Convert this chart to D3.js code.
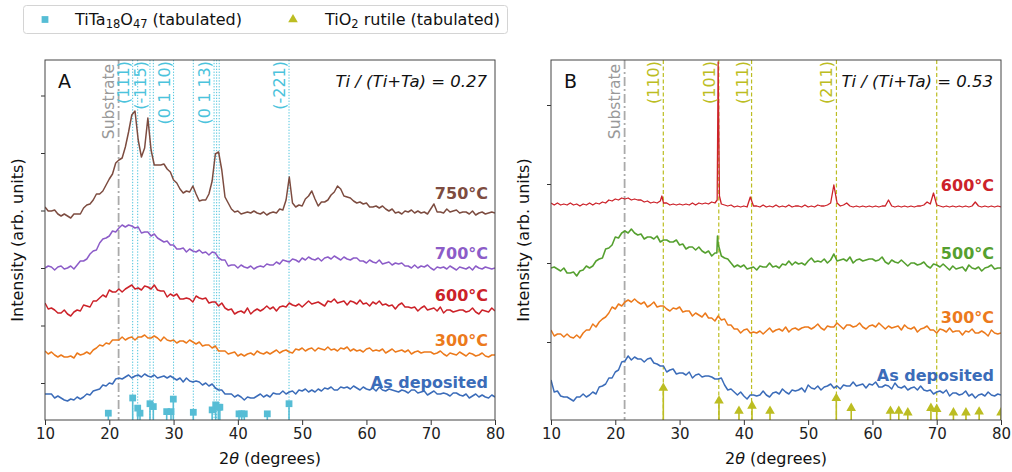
<!DOCTYPE html>
<html>
<head>
<meta charset="utf-8">
<script src="https://cdn.jsdelivr.net/npm/d3@7"></script>
<style>
  body { margin: 0; background: #fff; }
  svg { display: block; font-family: "DejaVu Sans", sans-serif; }
</style>
</head>
<body>
<svg id="chart" width="1012" height="472"></svg>
<script>
// ---- Scan grid (2θ, degrees): 10° to 80° in 0.5° steps ----
const SCAN_START = 10, SCAN_END = 80, SCAN_STEP = 0.5;
const scanAngles = d3.range(SCAN_START, SCAN_END + 1e-9, SCAN_STEP);

// ---- Panel A: Ti/(Ti+Ta) = 0.27, stacked patterns (arb. units, offsets included) ----
const A_750 = [
  176,172,172,173,169,167,169,167,165,169,
  169,169,175,178,179,183,189,189,192,198,
  204,209,220,223,225,236,251,268,272,243,
  226,235,265,233,218,218,218,219,214,211,
  203,200,194,190,192,191,197,189,182,183,
  183,189,202,229,231,213,186,180,174,171,
  172,169,170,171,170,172,170,169,171,168,
  170,171,170,174,173,183,206,180,176,178,
  177,184,187,192,184,177,181,181,183,188,
  191,197,194,187,186,185,182,180,181,179,
  180,176,176,177,175,177,174,172,174,170,
  171,169,172,171,173,170,172,170,171,169,
  174,179,171,171,170,174,171,172,173,170,
  171,171,169,172,168,170,171,169,170,171,
  170
];
const A_700 = [
  115,117,116,113,116,117,114,115,117,114,
  118,122,122,124,129,132,133,140,144,145,
  147,152,151,155,158,156,158,157,155,156,
  150,151,151,147,149,145,143,141,142,138,
  138,134,134,135,131,134,132,131,133,130,
  131,128,131,130,125,123,123,117,118,118,
  115,118,116,115,117,114,116,117,116,119,
  118,118,121,119,123,122,121,124,123,121,
  125,123,126,124,123,125,122,125,126,124,
  127,125,123,126,124,123,125,125,122,122,
  120,123,121,120,123,119,120,121,118,120,
  119,120,117,117,115,118,115,117,116,118,
  115,113,116,115,116,114,117,115,113,116,
  115,114,116,113,117,115,114,116,115,114,
  115
];
const A_600 = [
  80,74,75,73,70,70,73,69,67,71,
  73,72,78,77,76,82,82,85,88,86,
  93,91,91,94,91,94,96,98,94,95,
  93,97,96,94,98,93,92,92,86,89,
  87,89,84,84,85,84,81,87,85,84,
  85,80,81,81,77,80,75,73,74,69,
  71,72,70,75,69,72,74,72,74,77,
  74,76,72,76,77,76,80,78,77,79,
  76,79,82,79,80,81,79,77,82,81,
  84,80,81,82,78,82,81,79,83,79,
  80,77,81,79,82,78,79,77,78,74,
  78,80,76,76,75,76,72,75,77,73,
  74,75,72,76,70,73,73,71,72,73,
  73,71,72,75,71,69,73,72,71,75,
  72
];
const A_300 = [
  32,29,31,28,26,28,26,26,27,25,
  30,28,29,31,29,33,35,38,37,40,
  39,43,43,43,46,43,45,46,43,46,
  46,48,45,45,47,45,42,46,43,42,
  43,40,42,42,40,43,41,39,41,37,
  38,38,35,37,32,32,32,29,30,31,
  27,29,27,29,30,28,32,30,29,31,
  29,31,33,30,32,33,31,30,34,33,
  35,32,34,35,32,35,34,33,36,33,
  34,32,35,34,36,32,34,32,33,31,
  34,35,32,33,32,34,30,32,34,31,
  32,33,31,33,29,31,32,30,31,31,
  31,29,30,32,29,27,30,29,28,31,
  29,27,30,29,27,28,30,27,26,28,
  28
];
const A_asDeposited = [
  -11,-11,-11,-15,-13,-15,-17,-18,-16,-17,
  -14,-16,-14,-11,-12,-8,-7,-6,-2,-3,
  0,-1,4,5,4,6,8,5,7,8,
  6,9,7,6,8,5,6,7,5,7,
  5,3,5,1,5,2,1,2,1,-2,
  0,-3,-1,-5,-7,-7,-11,-11,-11,-14,
  -12,-14,-17,-14,-15,-15,-13,-11,-14,-12,
  -14,-10,-11,-11,-8,-11,-9,-8,-11,-7,
  -8,-6,-9,-7,-9,-6,-8,-5,-6,-4,
  -7,-7,-4,-5,-4,-6,-3,-5,-7,-4,
  -6,-7,-5,-8,-4,-7,-8,-6,-7,-8,
  -9,-7,-8,-10,-7,-7,-10,-9,-8,-12,
  -10,-8,-11,-11,-10,-11,-13,-10,-10,-12,
  -13,-11,-15,-13,-11,-14,-12,-14,-15,-12,
  -14
];

// ---- Panel B: Ti/(Ti+Ta) = 0.53 ----
const B_600 = [
  139,137,139,137,138,137,139,137,138,136,
  138,137,139,137,139,138,140,139,142,141,
  143,142,144,143,144,142,143,142,142,140,
  141,139,140,139,141,139,139,137,138,137,
  138,137,138,137,139,137,139,138,139,138,
  140,139,280,138,137,136,137,135,136,135,
  136,135,145,136,136,135,137,135,136,135,
  137,135,136,135,137,135,136,136,135,137,
  135,136,135,137,136,136,137,139,157,139,
  136,137,139,136,135,136,135,136,135,136,
  135,136,135,136,136,142,136,135,136,135,
  136,135,136,135,136,136,137,140,138,149,
  137,136,135,136,135,136,135,136,135,136,
  135,136,140,136,135,136,135,136,135,136,
  135
];
const B_600_extra = [[27.25, 146], [35.85, 142], [36.2, 146]];
const B_500 = [
  74,75,73,71,74,69,69,70,66,71,
  72,76,74,76,81,83,84,93,94,97,
  105,104,109,111,109,113,109,107,108,103,
  105,105,103,106,100,102,102,100,100,102,
  97,98,93,95,95,92,95,91,89,91,
  86,89,98,86,84,83,79,75,77,75,
  77,73,74,75,72,76,75,75,79,75,
  76,74,78,77,81,77,80,78,79,77,
  81,84,80,81,80,83,79,82,88,81,
  82,83,81,85,79,82,83,81,82,83,
  83,81,82,85,80,78,82,80,79,82,
  79,76,79,79,77,78,80,76,74,78,
  77,75,78,75,72,76,73,74,75,71,
  77,74,73,75,71,74,75,77,73,74,
  74
];
const B_500_extra = [[35.8, 89], [35.9, 106]];
const B_300 = [
  12,6,8,8,5,8,5,4,7,4,
  9,12,12,18,15,20,23,25,29,35,
  33,38,36,40,42,40,43,40,38,40,
  35,37,40,35,36,36,33,31,34,33,
  35,30,31,31,26,29,27,25,29,24,
  24,21,26,22,23,17,17,13,13,9,
  12,13,9,10,9,11,8,11,14,10,
  12,13,11,15,10,13,14,12,14,15,
  15,13,15,18,14,12,16,15,15,19,
  16,13,17,17,15,16,19,15,13,16,
  17,15,19,16,13,16,14,15,16,12,
  17,14,13,15,10,13,14,16,12,12,
  9,13,12,10,14,10,11,11,7,11,
  10,13,9,9,11,9,6,12,9,8,
  9
];
const B_asDeposited = [
  -38,-50,-49,-54,-55,-55,-57,-59,-55,-55,
  -52,-55,-53,-50,-52,-45,-44,-42,-36,-36,
  -30,-28,-20,-19,-14,-18,-15,-17,-17,-20,
  -17,-16,-21,-22,-24,-24,-30,-28,-27,-32,
  -31,-31,-33,-30,-36,-33,-32,-35,-34,-34,
  -35,-37,-37,-36,-43,-48,-47,-50,-53,-50,
  -54,-57,-53,-53,-54,-53,-49,-53,-55,-51,
  -50,-52,-47,-50,-52,-48,-49,-48,-46,-50,
  -43,-46,-47,-44,-48,-45,-44,-42,-46,-44,
  -47,-43,-44,-44,-40,-44,-43,-42,-46,-42,
  -43,-40,-45,-45,-43,-44,-47,-41,-45,-46,
  -44,-48,-46,-45,-48,-44,-48,-49,-48,-52,
  -50,-49,-51,-48,-54,-51,-51,-53,-52,-49,
  -54,-52,-56,-53,-52,-54,-50,-53,-54,-52,
  -53
];

// ---- Tabulated reference reflections: [2θ, relative intensity %] ----
const tiTa18O47Refs = [
  [19.85,31],[23.64,100],[24.42,54],[24.78,31],[26.33,74],[26.85,61],
  [28.93,38],[29.6,38],[29.96,95],[33.07,35],[36.0,46],[36.55,69],
  [36.96,58],[37.2,58],[40.18,28],[40.6,28],[41.0,28],[44.58,28],[47.96,74]
];
const rutileRefs = [
  [27.47,100],[36.13,60],[39.24,28],[41.27,44],[44.07,28],[54.38,68],
  [56.7,37],[62.8,28],[64.1,28],[65.5,23],[69.1,37],[70.0,34],
  [72.6,23],[74.55,23],[76.6,26],[80.0,23]
];

// ---- Indexed reflection guides ----
const guidesA = [23.64, 24.42, 26.33, 26.85, 30.0, 33.07, 36.3, 36.7, 37.1, 47.96];
const guideLabelsA = [[23.64,'(111)'],[26.33,'(-115)'],[30.0,'(0 1 10)'],[36.3,'(0 1 13)'],[47.96,'(-221)']];
const guidesB = [27.47, 36.1, 41.2, 54.4, 70.0];
const guideLabelsB = [[27.47,'(110)'],[36.1,'(101)'],[41.2,'(111)'],[54.4,'(211)']];
const substrateAngle = 21.45;

const xTicks = [10, 20, 30, 40, 50, 60, 70, 80];

// ---- Styling ----
const COL = {
  brown: '#7d4c40', purple: '#8c5cc8', red: '#cc2229', orange: '#ec7a1c',
  blue: '#3b6cb9', green: '#55a02f', cyan: '#56bdd5', cyanLine: '#4cc3dc',
  olive: '#bcbd22', gray: '#aaaaaa'
};
const TOP = 60, BOTTOM = 420;

function series(values, extra) {
  const pts = scanAngles.map((a, i) => [a, values[i]]);
  return (extra ? pts.concat(extra) : pts).sort((p, q) => p[0] - q[0]);
}

const panels = [
  {
    id: 'A', left: 45, right: 495,
    yDomain: [-37, 323], yTicks: [0, 57.5, 115, 172.5, 230, 287.5],
    ratio: 'Ti / (Ti+Ta) = 0.27',
    curves: [
      { label: '750°C', data: series(A_750), color: COL.brown, labelY: 184, width: 1.5 },
      { label: '700°C', data: series(A_700), color: COL.purple, labelY: 124.5, width: 1.5 },
      { label: '600°C', data: series(A_600), color: COL.red, labelY: 82, width: 1.5 },
      { label: '300°C', data: series(A_300), color: COL.orange, labelY: 37, width: 1.5 },
      { label: 'As deposited', data: series(A_asDeposited), color: COL.blue, labelY: -4.5, width: 1.5 }
    ],
    guides: guidesA, guideLabels: guideLabelsA, guideColor: COL.cyanLine, guideDash: '1.3,1.6', guideWidth: 1,
    refs: tiTa18O47Refs, refColor: COL.cyan, refSymbol: d3.symbolSquare, refSize: 46, refHeight: 22
  },
  {
    id: 'B', left: 551, right: 1001,
    yDomain: [-78, 282], yTicks: [0, 79, 158, 237],
    ratio: 'Ti / (Ti+Ta) = 0.53',
    curves: [
      { label: '600°C', data: series(B_600, B_600_extra), color: COL.red, labelY: 151, width: 1.3 },
      { label: '500°C', data: series(B_500, B_500_extra), color: COL.green, labelY: 83, width: 1.6 },
      { label: '300°C', data: series(B_300), color: COL.orange, labelY: 19, width: 1.5 },
      { label: 'As deposited', data: series(B_asDeposited), color: COL.blue, labelY: -39, width: 1.5 }
    ],
    guides: guidesB, guideLabels: guideLabelsB, guideColor: COL.olive, guideDash: '4,2.5', guideWidth: 1.2,
    refs: rutileRefs, refColor: COL.olive, refSymbol: d3.symbolTriangle, refSize: 40, refHeight: 32
  }
];

const svg = d3.select('#chart');
const defs = svg.append('defs');

panels.forEach(p => {
  const x = d3.scaleLinear([SCAN_START, SCAN_END], [p.left, p.right]);
  const y = d3.scaleLinear(p.yDomain, [BOTTOM, TOP]);
  const g = svg.append('g');

  defs.append('clipPath').attr('id', 'clip' + p.id)
    .append('rect').attr('x', p.left).attr('y', TOP)
    .attr('width', p.right - p.left).attr('height', BOTTOM - TOP);
  const plot = g.append('g').attr('clip-path', `url(#clip${p.id})`);

  // substrate reference line
  plot.append('line')
    .attr('x1', x(substrateAngle)).attr('x2', x(substrateAngle))
    .attr('y1', TOP).attr('y2', BOTTOM)
    .attr('stroke', COL.gray).attr('stroke-width', 1.8)
    .attr('stroke-dasharray', '9,3,2,3');

  // indexed reflection guides
  plot.selectAll('line.guide').data(p.guides).join('line')
    .attr('class', 'guide')
    .attr('x1', d => x(d)).attr('x2', d => x(d))
    .attr('y1', TOP).attr('y2', BOTTOM)
    .attr('stroke', p.guideColor).attr('stroke-width', p.guideWidth)
    .attr('stroke-dasharray', p.guideDash);

  // diffraction patterns
  const line = d3.line().x(d => x(d[0])).y(d => y(d[1]));
  plot.selectAll('path.curve').data(p.curves).join('path')
    .attr('class', 'curve')
    .attr('d', d => line(d.data))
    .attr('fill', 'none')
    .attr('stroke', d => d.color)
    .attr('stroke-width', d => d.width)
    .attr('stroke-linejoin', 'round');

  // tabulated reflections as stems with markers
  const refY = d3.scaleLinear([0, 100], [p.yDomain[0], p.yDomain[0] + p.refHeight]);
  plot.selectAll('line.stem').data(p.refs).join('line')
    .attr('class', 'stem')
    .attr('x1', d => x(d[0])).attr('x2', d => x(d[0]))
    .attr('y1', BOTTOM).attr('y2', d => y(refY(d[1])))
    .attr('stroke', p.refColor).attr('stroke-width', 1.6);
  const sym = d3.symbol(p.refSymbol, p.refSize);
  plot.selectAll('path.ref').data(p.refs).join('path')
    .attr('class', 'ref')
    .attr('d', sym)
    .attr('transform', d => `translate(${x(d[0])},${y(refY(d[1]))})`)
    .attr('fill', p.refColor);

  // curve labels
  g.selectAll('text.tlabel').data(p.curves).join('text')
    .attr('class', 'tlabel')
    .attr('x', p.right - 7)
    .attr('y', d => y(d.labelY))
    .attr('text-anchor', 'end')
    .attr('font-size', 16).attr('font-weight', 'bold')
    .attr('fill', d => d.color)
    .text(d => d.label);

  // rotated guide labels
  g.append('text')
    .attr('transform', `translate(${x(substrateAngle) - 5},64) rotate(-90)`)
    .attr('text-anchor', 'end').attr('font-size', 15.5)
    .attr('fill', '#999999').text('Substrate');
  g.selectAll('text.glabel').data(p.guideLabels).join('text')
    .attr('class', 'glabel')
    .attr('transform', d => `translate(${x(d[0]) - 4},61) rotate(-90)`)
    .attr('text-anchor', 'end').attr('font-size', 16)
    .attr('fill', p.guideColor)
    .text(d => d[1]);

  // panel letter and composition
  g.append('text').attr('x', p.left + 13).attr('y', 88)
    .attr('font-size', 19).attr('fill', '#111').text(p.id);
  g.append('text').attr('x', p.right - 8).attr('y', 87)
    .attr('text-anchor', 'end').attr('font-size', 16.5)
    .attr('font-style', 'italic').attr('fill', '#111').text(p.ratio);

  // axes
  const xAxis = g.append('g').attr('transform', `translate(0,${BOTTOM})`)
    .call(d3.axisBottom(x).tickValues(xTicks).tickFormat(d3.format('d'))
      .tickSize(5).tickSizeOuter(0).tickPadding(3));
  xAxis.select('.domain').remove();
  xAxis.selectAll('text').attr('font-size', 15).attr('fill', '#222')
    .attr('font-family', '"DejaVu Sans", sans-serif');
  xAxis.selectAll('line').attr('stroke', '#333');

  const yAxis = g.append('g').attr('transform', `translate(${p.left},0)`)
    .call(d3.axisLeft(y).tickValues(p.yTicks).tickFormat('').tickSize(4).tickSizeOuter(0));
  yAxis.select('.domain').remove();
  yAxis.selectAll('line').attr('stroke', '#333');

  // frame
  g.append('rect').attr('x', p.left).attr('y', TOP)
    .attr('width', p.right - p.left).attr('height', BOTTOM - TOP)
    .attr('fill', 'none').attr('stroke', '#444').attr('stroke-width', 1);

  // axis titles
  const xt = g.append('text').attr('x', (p.left + p.right) / 2).attr('y', 464)
    .attr('text-anchor', 'middle').attr('font-size', 16).attr('fill', '#111');
  xt.append('tspan').text('2');
  xt.append('tspan').attr('font-style', 'italic').text('θ');
  xt.append('tspan').text(' (degrees)');

  g.append('text')
    .attr('transform', `translate(${p.left - 22},${(TOP + BOTTOM) / 2}) rotate(-90)`)
    .attr('text-anchor', 'middle').attr('font-size', 16).attr('fill', '#111')
    .text('Intensity (arb. units)');
});

// ---- Legend ----
const leg = svg.append('g');
leg.append('rect').attr('x', 23.5).attr('y', 5.5).attr('width', 484).attr('height', 28)
  .attr('rx', 3).attr('fill', '#fff').attr('stroke', '#d4d4d4');
leg.append('path').attr('d', d3.symbol(d3.symbolSquare, 46)())
  .attr('transform', 'translate(45,19.5)').attr('fill', COL.cyan);
const t1 = leg.append('text').attr('x', 75).attr('y', 25).attr('font-size', 16).attr('fill', '#111');
t1.append('tspan').text('TiTa');
t1.append('tspan').attr('font-size', 11.5).attr('dy', 3).text('18');
t1.append('tspan').attr('dy', -3).text('O');
t1.append('tspan').attr('font-size', 11.5).attr('dy', 3).text('47');
t1.append('tspan').attr('dy', -3).text(' (tabulated)');
leg.append('path').attr('d', d3.symbol(d3.symbolTriangle, 40)())
  .attr('transform', 'translate(293,19.5)').attr('fill', COL.olive);
const t2 = leg.append('text').attr('x', 325).attr('y', 25).attr('font-size', 16).attr('fill', '#111');
t2.append('tspan').text('TiO');
t2.append('tspan').attr('font-size', 11.5).attr('dy', 3).text('2');
t2.append('tspan').attr('dy', -3).text(' rutile (tabulated)');
</script>
</body>
</html>
